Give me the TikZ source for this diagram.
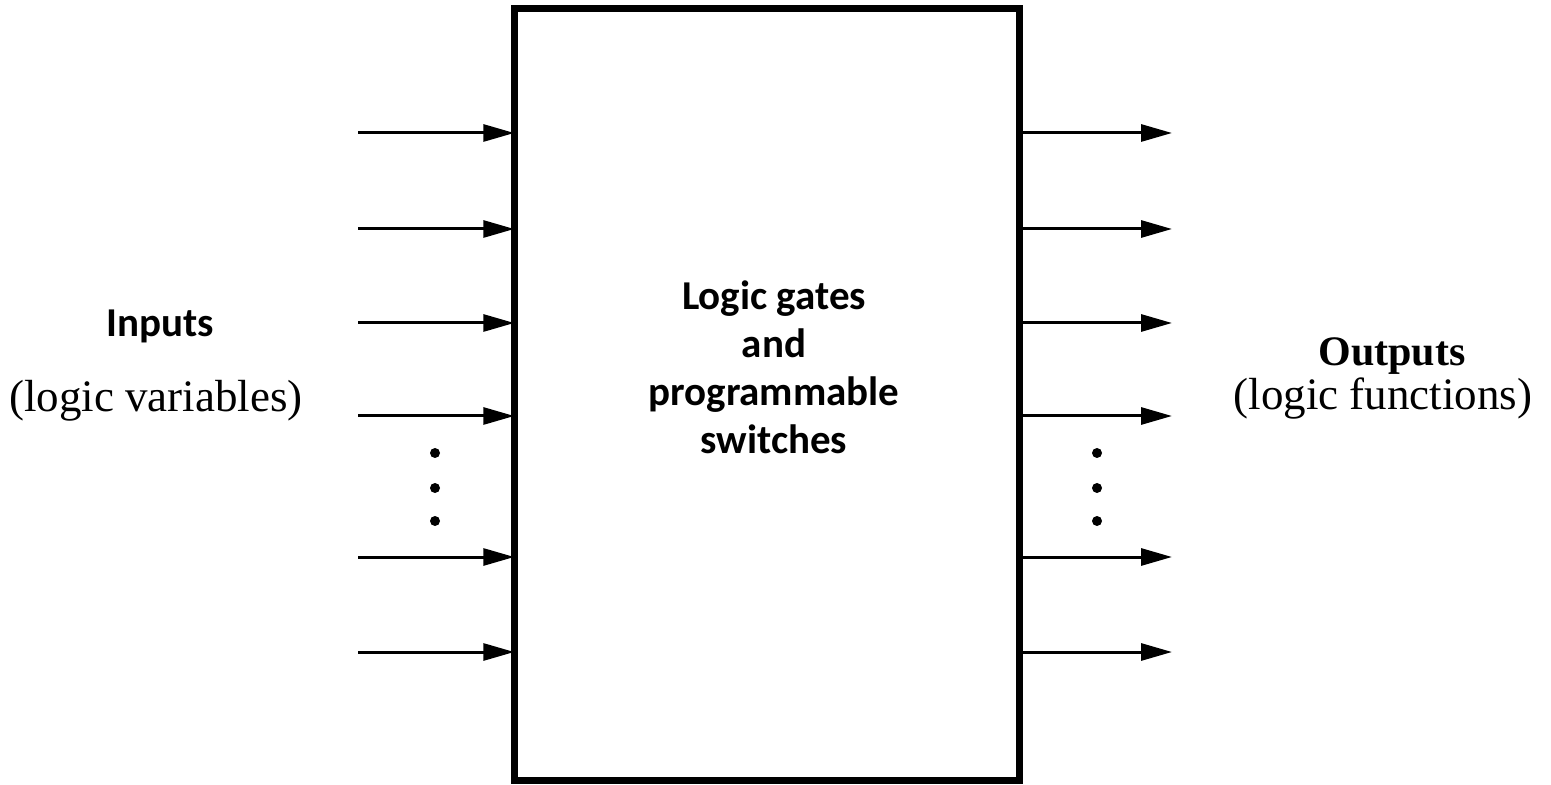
\documentclass[tikz,border=0pt]{standalone}
\usepackage{fontspec}
\setmainfont{Liberation Serif}
\newfontfamily\carlito{Carlito}
\usetikzlibrary{arrows.meta}
\tikzset{
  box/.style={draw, line width=3.5pt, outer sep=0pt, inner sep=0pt},
  arr/.style={line width=1.5pt, -{Triangle[length=15.5pt,width=8.5pt]}},
  dotmark/.style={fill=black, circle, inner sep=0pt, minimum size=5pt},
  sanslbl/.style={font=\carlito\bfseries\fontsize{20.5pt}{24pt}\selectfont, inner sep=0pt},
  seriflbl/.style={font=\fontsize{22.5pt}{27pt}\selectfont, inner sep=0pt},
}
\begin{document}
\begin{tikzpicture}[x=0.5pt,y=-0.5pt]
\useasboundingbox (0,0) rectangle (1551,785);
\node[box, minimum width=252.5pt, minimum height=385.75pt] (box) at (766.75,394.75) {};
\node[sanslbl, align=center] (core) at (774,367) {Logic gates\\and\\programmable\\switches};
% inputs and outputs
\foreach \n/\y in {1/133,2/229,3/323,4/416,5/557,6/652}{
  \coordinate (i\n) at (358,\y);
  \draw[arr] (i\n) -- (i\n -| box.west);
  \coordinate (o\n) at (1172,\y);
  \draw[arr] (o\n -| box.east) -- (o\n);
}
\node[dotmark] (dl1) at (435,453) {};
\node[dotmark] (dl2) at (435,488) {};
\node[dotmark] (dl3) at (435,521) {};
\node[dotmark] (dr1) at (1097,453) {};
\node[dotmark] (dr2) at (1097,488) {};
\node[dotmark] (dr3) at (1097,521) {};
\node[sanslbl, anchor=base] (inl) at (160,337) {Inputs};
\node[seriflbl, anchor=base] (invar) at (156,412) {(logic variables)};
\node[seriflbl, font=\bfseries\fontsize{21pt}{25pt}\selectfont, anchor=base] (outl) at (1392,366) {Outputs};
\node[seriflbl, anchor=base] (outfn) at (1383,410) {(logic functions)};
\end{tikzpicture}
\end{document}
